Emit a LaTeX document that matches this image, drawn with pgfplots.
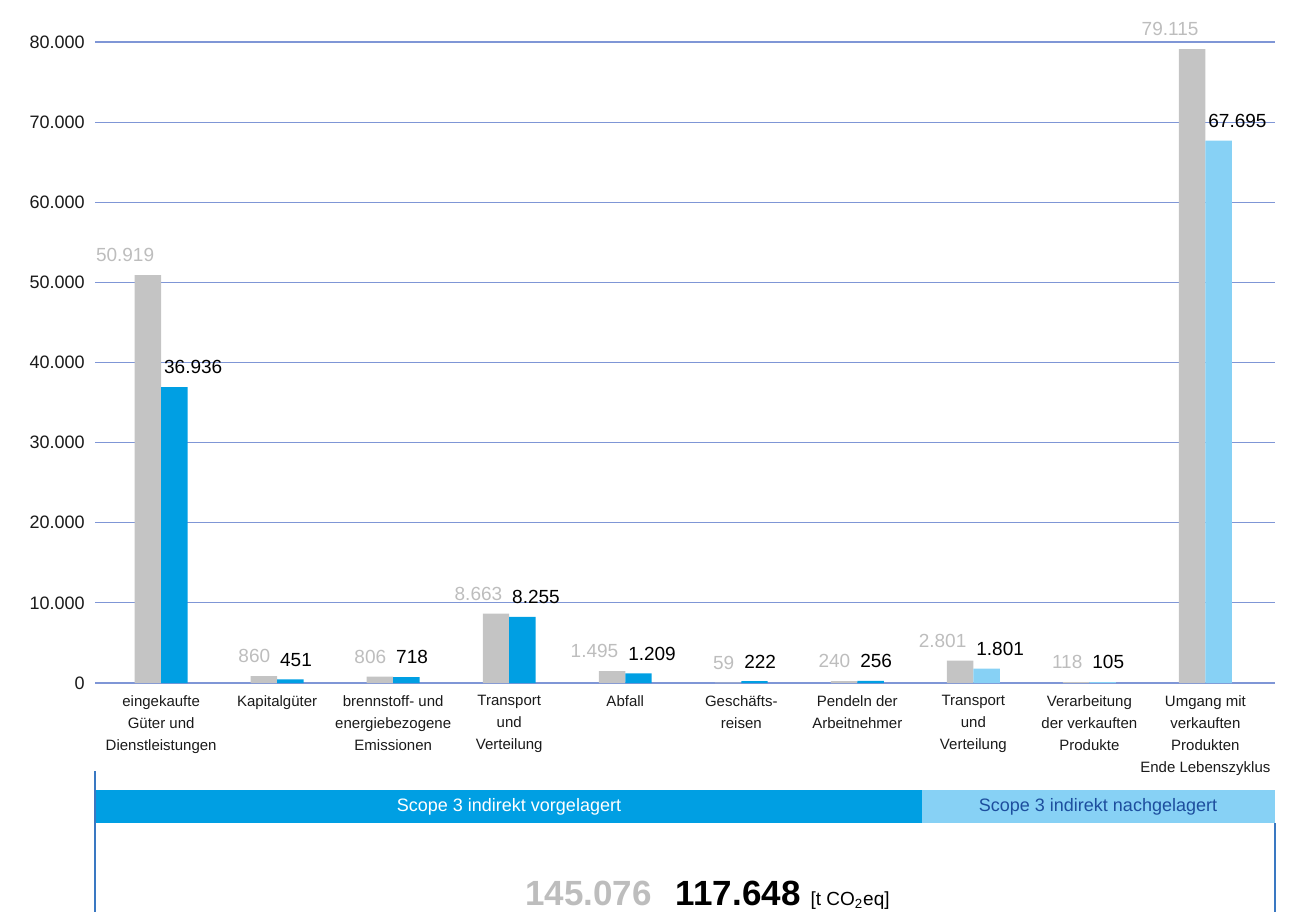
\documentclass[border=0pt]{standalone}
\usepackage{pgfplots}
\pgfplotsset{compat=1.18}
\usepackage{fontspec}
\setmainfont{Liberation Sans}
\definecolor{barGray}{HTML}{C4C4C4}
\definecolor{barBlue}{HTML}{009FE3}
\definecolor{barLight}{HTML}{87D1F5}
\definecolor{gridBlue}{HTML}{7F96D6}
\definecolor{lblGray}{HTML}{BDBDBD}
\definecolor{txtDark}{HTML}{1A1A1A}
\definecolor{navy}{HTML}{1D4E9E}
\definecolor{edgeBlue}{HTML}{3A78C2}
\newcommand{\valfont}{\fontsize{9.5}{11}\selectfont}
\begin{document}
\begin{tikzpicture}[x=1pt,y=1pt]
\useasboundingbox (-47.5,-116) rectangle (607.5,341.5);
\begin{axis}[
  at={(0,0)}, anchor=south west,
  scale only axis, width=590pt, height=320.5pt,
  xmin=-0.57, xmax=9.6, ymin=0, ymax=80000,
  clip=false,
  axis line style={draw=none},
  major tick length=0pt,
  tick style={draw=none},
  ytick={0,10000,20000,30000,40000,50000,60000,70000,80000},
  ymajorgrids, grid style={gridBlue, line width=0.6pt},
  scaled y ticks=false,
  /pgf/number format/.cd, 1000 sep={.}, assume math mode=true,
  /pgfplots/.cd,
  yticklabel style={font=\fontsize{9}{11}\selectfont, text=txtDark, inner sep=0pt, xshift=-5pt},
  xtick={0,1,2,3,4,5,6,7,8,9},
  xticklabels={{eingekaufte\\Güter und\\Dienstleistungen}, Kapitalgüter, {brennstoff- und\\energiebezogene\\Emissionen}, {Transport\\und\\Verteilung}, Abfall, {Geschäfts-\\reisen}, {Pendeln der\\Arbeitnehmer}, {Transport\\und\\Verteilung}, {Verarbeitung\\der verkauften\\Produkte}, {Umgang mit\\verkauften\\Produkten\\Ende Lebenszyklus}},
  xticklabel style={align=center, font=\fontsize{7.5}{11}\selectfont, text=txtDark, anchor=north, inner sep=0pt, yshift=-6pt},
  every node near coord/.append style={yshift=3pt},
]
\addplot[ybar, bar width=0.228, bar shift=-0.114, fill=barGray, draw=none, text=lblGray,
  nodes near coords={\valfont\color{lblGray}\llap{\pgfmathprintnumber{\pgfplotspointmeta}\hspace{3.5pt}}}]
  coordinates {(0,50919) (1,860) (2,806) (3,8663) (4,1495) (5,59) (6,240) (7,2801) (8,118) (9,79115)};
\addplot[ybar, bar width=0.228, bar shift=0.114, fill=barBlue, draw=none, text=black,
  nodes near coords={\valfont\color{black}\rlap{\hspace{1.5pt}\pgfmathprintnumber{\pgfplotspointmeta}}}]
  coordinates {(0,36936) (1,451) (2,718) (3,8255) (4,1209) (5,222) (6,256)};
\addplot[ybar, bar width=0.228, bar shift=0.114, fill=barLight, draw=none, text=black,
  nodes near coords={\valfont\color{black}\rlap{\hspace{1.5pt}\pgfmathprintnumber{\pgfplotspointmeta}}}]
  coordinates {(7,1801) (8,105) (9,67695)};
\end{axis}
\fill[barBlue] (0,-53.5) rectangle (413.5,-70);
\fill[barLight] (413.5,-53.5) rectangle (590,-70);
\node[text=white, font=\fontsize{9}{11}\selectfont] at (207,-61.75) {Scope 3 indirekt vorgelagert};
\node[text=navy, font=\fontsize{9}{11}\selectfont] at (501.5,-61.75) {Scope 3 indirekt nachgelagert};
\draw[edgeBlue, line width=0.6pt] (0,-44) -- (0,-114.5);
\draw[edgeBlue, line width=0.6pt] (590,-70) -- (590,-114.5);
\node[anchor=base west, inner sep=0pt] at (215,-111) {\fontsize{17.5}{20}\selectfont\bfseries\textcolor{lblGray}{145.076}\hspace{12pt}117.648\hspace{5pt}\fontsize{9.5}{11}\mdseries\selectfont [t CO\textsubscript{2}eq]};
\end{tikzpicture}
\end{document}
